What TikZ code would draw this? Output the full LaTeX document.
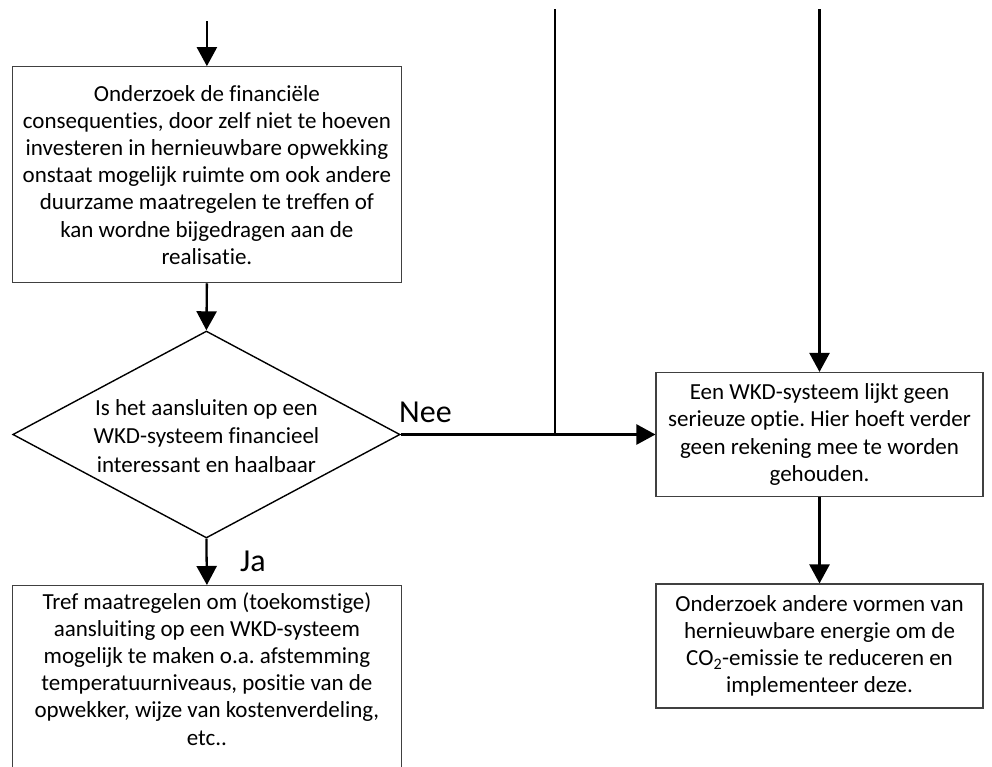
\documentclass[tikz,border=0pt]{standalone}
\usepackage{fontspec}
\setmainfont[RawFeature={-liga;-clig;-dlig;-calt}]{Carlito}
\usetikzlibrary{arrows.meta,shapes.geometric}
\frenchspacing
\begin{document}
\begin{tikzpicture}[x=1pt,y=-1pt,
  txt/.style={font=\frenchspacing\fontsize{23}{27.2}\selectfont, align=center, inner sep=0pt},
  procbox/.style={draw=black!75, line width=1.1pt, rectangle, inner sep=0pt},
  decision/.style={draw=black, line width=1.4pt, diamond, shape aspect=1.87, inner sep=0pt, minimum width=387.3pt, minimum height=207pt},
  conn/.style={line width=2.3pt, draw=black},
  arr/.style={conn, -{Triangle[length=19pt,width=20pt]}},
  lbl/.style={font=\fontsize{32}{36}\selectfont, inner sep=0pt}
]
\useasboundingbox (0,0) rectangle (992,766);
\clip (0,0) rectangle (992,766);

% box 1
\node[procbox, minimum width=388.3pt, minimum height=216pt] (b1) at (206.9,174.7) {};
\node[txt] (b1t) at (b1.center) {Onderzoek de financiële\\consequenties, door zelf niet te hoeven\\investeren in hernieuwbare opwekking\\onstaat mogelijk ruimte om ook andere\\duurzame maatregelen te treffen of\\kan wordne bijgedragen aan de\\realisatie.};

% decision
\node[decision] (dia) at (206.4,434.5) {};
\node[txt, font=\fontsize{23}{28.5}\selectfont] (diat) at (206.4,436) {Is het aansluiten op een\\WKD-systeem financieel\\interessant en haalbaar};

% box 2 (cut off at bottom)
\node[procbox, minimum width=388.3pt, minimum height=240pt, anchor=north] (b2) at (206.9,585) {};
\node[txt, anchor=north] (b2t) at (206.9,592) {Tref maatregelen om (toekomstige)\\aansluiting op een WKD-systeem\\mogelijk te maken o.a. afstemming\\temperatuurniveaus, positie van de\\opwekker, wijze van kostenverdeling,\\etc..};

% box 3
\node[procbox, minimum width=327pt, minimum height=124pt] (b3) at (819.5,434.5) {};
\node[txt] (b3t) at (b3.center) {Een WKD-systeem lijkt geen\\serieuze optie. Hier hoeft verder\\geen rekening mee te worden\\gehouden.};

% box 4
\node[procbox, minimum width=327pt, minimum height=124pt] (b4) at (819.5,646) {};
\node[txt] (b4t) at (b4.center) {Onderzoek andere vormen van\\hernieuwbare energie om de\\CO\textsubscript{2}-emissie te reduceren en\\implementeer deze.};

% free ends
\coordinate (in1) at (206.9,21);
\coordinate (in2) at (555,9);
\coordinate (in3) at (819.5,9);
\coordinate (jn) at (555,434.5);

% connectors
\draw[arr] (in1) -- (b1.north);
\draw[arr] (b1.south) -- (dia.north);
\draw[arr] (dia.south) -- (b2.north);
\draw[arr] (dia.east) -- (b3.west);
\draw[conn] (in2) -- (jn);
\draw[arr] (in3) -- (b3.north);
\draw[arr] (b3.south) -- (b4.north);

% labels
\node[lbl, anchor=base west] (nee) at (399,422) {Nee};
\node[lbl, anchor=base west] (ja) at (240,571) {Ja};
\end{tikzpicture}
\end{document}
